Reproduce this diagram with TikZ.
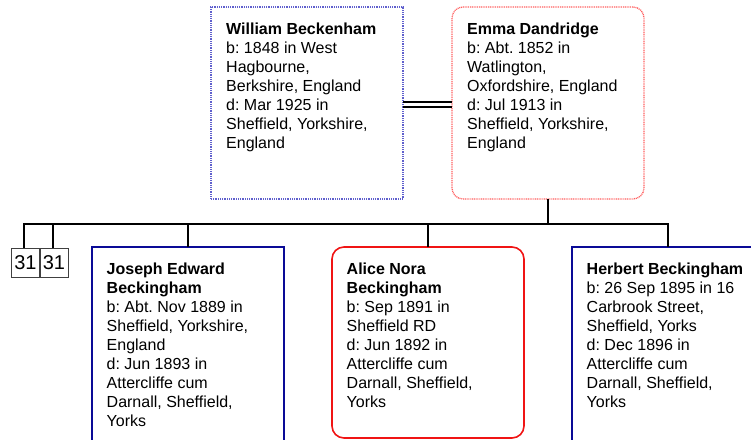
\documentclass[tikz,border=0pt]{standalone}
\usepackage{fontspec}
\setmainfont{Liberation Sans}
\frenchspacing
\definecolor{dotblue}{RGB}{95,95,205}
\definecolor{dotred}{RGB}{255,95,95}
\definecolor{navyline}{RGB}{10,10,150}
\definecolor{redline}{RGB}{240,20,20}
\begin{document}
\begin{tikzpicture}[x=1pt,y=-1pt,
  personbox/.style={anchor=north west,inner sep=0pt,outer sep=0pt,minimum width=192pt},
  maleDot/.style={personbox,draw=dotblue,line width=1.3pt,dash pattern=on 1pt off 0.8pt,minimum height=192pt},
  femaleDot/.style={personbox,draw=dotred,line width=1.3pt,dash pattern=on 1pt off 0.8pt,rounded corners=11pt,minimum height=192pt},
  maleBox/.style={personbox,draw=navyline,line width=1.8pt,minimum height=200pt},
  femaleBox/.style={personbox,draw=redline,line width=1.6pt,rounded corners=12pt,minimum height=191pt},
  info/.style={anchor=north west,inner sep=0pt,align=left,font=\fontsize{16}{19.1}\selectfont\frenchspacing},
  num/.style={draw=black!75,line width=0.8pt,inner sep=0pt,minimum width=28pt,minimum height=29pt,anchor=north west,font=\fontsize{20}{20}\selectfont},
  link/.style={line width=1.8pt,black}]
\useasboundingbox (0,0) rectangle (751,439);
\clip (0,0) rectangle (751,439);

% parents
\node[maleDot] (wb) at (211,7) {};
\node[femaleDot] (em) at (452,7) {};
\node[info] (wbt) at ([xshift=15pt,yshift=-15.3pt]wb.north west)
  {\textbf{William Beckenham}\\b: 1848 in West\\Hagbourne,\\Berkshire, England\\d: Mar 1925 in\\Sheffield, Yorkshire,\\England};
\node[info] (emt) at ([xshift=15pt,yshift=-15.3pt]em.north west)
  {\textbf{Emma Dandridge}\\b: Abt. 1852 in\\Watlington,\\Oxfordshire, England\\d: Jul 1913 in\\Sheffield, Yorkshire,\\England};

% marriage
\draw[link] ([yshift=1.3pt]wb.east) -- ([yshift=1.3pt]wb.east -| em.west);
\draw[link] ([yshift=-3.7pt]wb.east) -- ([yshift=-3.7pt]wb.east -| em.west);

% children
\node[num] (s1) at (11,248) {31};
\node[num] (s2) at (39.5,248) {31};
\node[maleBox] (jb) at (92,247) {};
\node[femaleBox] (an) at (332,247) {};
\node[maleBox] (hb) at (572,247) {};
\node[info] (jbt) at ([xshift=14.5pt,yshift=-15.3pt]jb.north west)
  {\textbf{Joseph Edward}\\\textbf{Beckingham}\\b: Abt. Nov 1889 in\\Sheffield, Yorkshire,\\England\\d: Jun 1893 in\\Attercliffe cum\\Darnall, Sheffield,\\Yorks};
\node[info] (ant) at ([xshift=14.5pt,yshift=-15.3pt]an.north west)
  {\textbf{Alice Nora}\\\textbf{Beckingham}\\b: Sep 1891 in\\Sheffield RD\\d: Jun 1892 in\\Attercliffe cum\\Darnall, Sheffield,\\Yorks};
\node[info] (hbt) at ([xshift=14.5pt,yshift=-15.3pt]hb.north west)
  {\textbf{Herbert Beckingham}\\b: 26 Sep 1895 in 16\\Carbrook Street,\\Sheffield, Yorks\\d: Dec 1896 in\\Attercliffe cum\\Darnall, Sheffield,\\Yorks};

% sibling bar
\coordinate (barL) at (24,224);
\coordinate (bar2) at (53,224);
\coordinate (barR) at (668,224);
\draw[link] (em.south) -- (em.south |- barL);
\draw[link] ([xshift=-0.9pt]barL) -- ([xshift=0.9pt]barR);
\draw[link] (barL) -- (barL |- s1.north);
\draw[link] (bar2) -- (bar2 |- s2.north);
\draw[link] (jb.north) -- (jb.north |- barL);
\draw[link] (an.north) -- (an.north |- barL);
\draw[link] (barR) -- (barR |- hb.north);
\end{tikzpicture}
\end{document}
